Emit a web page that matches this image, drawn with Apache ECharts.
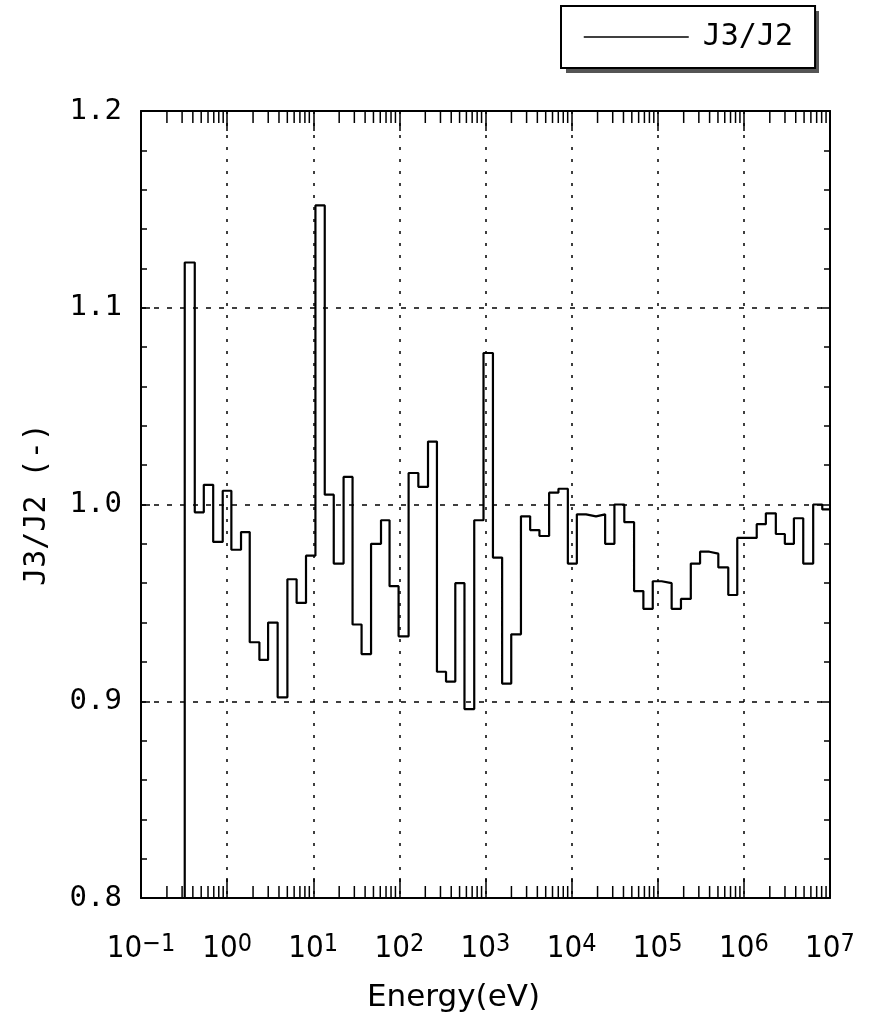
<!DOCTYPE html>
<html><head><meta charset="utf-8">
<script src="https://cdn.jsdelivr.net/npm/echarts@6/dist/echarts.min.js"></script>
<style>html,body{margin:0;padding:0;background:#fff}#c{width:870px;height:1022px}</style>
</head><body><div id="c"></div>
<script>
const SERIES_NAME = 'J3/J2';
const X_NAME = 'Energy(eV)';
const Y_NAME = 'J3/J2 (-)';
// group boundaries (eV)
const BIN_EDGES_EV = [
  0.322, 0.421, 0.536, 0.689, 0.889, 1.12, 1.45, 1.83, 2.37, 2.99,
  3.86, 5.01, 6.41, 8.24, 10.6, 13.6, 17.3, 22.5, 28.6, 36.4,
  46.9, 61.2, 76.9, 97.9, 128, 166, 215, 273, 348, 446,
  570, 740, 948, 1220, 1560, 1990, 2580, 3300, 4230, 5480,
  7030, 9040, 11500, 14700, 19200, 24500, 31400, 40900, 53100, 68100,
  87500, 111000, 145000, 186000, 242000, 310000, 397000, 505000, 659000, 838000,
  1090000, 1410000, 1800000, 2350000, 2990000, 3810000, 4890000, 6380000, 8130000, 10000000
];
// J3/J2 value in each group (one fewer than the boundaries)
const J3_J2 = [
  1.123, 0.996, 1.010, 0.981, 1.007, 0.977, 0.986, 0.930, 0.921, 0.940,
  0.902, 0.962, 0.950, 0.974, 1.152, 1.005, 0.970, 1.014, 0.939, 0.924,
  0.980, 0.992, 0.9585, 0.933, 1.016, 1.009, 1.032, 0.915, 0.910, 0.960,
  0.896, 0.992, 1.077, 0.973, 0.909, 0.934, 0.994, 0.987, 0.984, 1.006,
  1.008, 0.970, 0.995, 0.994, 0.995, 0.980, 1.000, 0.991, 0.956, 0.947,
  0.961, 0.960, 0.947, 0.952, 0.970, 0.976, 0.975, 0.968, 0.954, 0.983,
  0.983, 0.990, 0.9955, 0.985, 0.980, 0.993, 0.970, 1.000, 0.9975
];
const X_TICK_EXPONENTS = [-1, 0, 1, 2, 3, 4, 5, 6, 7];
const X_MINOR_MULTIPLES = [2, 3, 4, 5, 6, 7, 8, 9];
const Y_TICKS = [0.8, 0.9, 1.0, 1.1, 1.2];

const X_MIN = Math.pow(10, X_TICK_EXPONENTS[0]);
const X_MAX = Math.pow(10, X_TICK_EXPONENTS[X_TICK_EXPONENTS.length - 1]);
const Y_MIN = Y_TICKS[0], Y_MAX = Y_TICKS[Y_TICKS.length - 1];

// step line data
const lineData = [[BIN_EDGES_EV[0], Y_MIN]];
for (let i = 0; i < J3_J2.length; i++) lineData.push([BIN_EDGES_EV[i], J3_J2[i]]);
lineData.push([BIN_EDGES_EV[BIN_EDGES_EV.length - 1], J3_J2[J3_J2.length - 1]]);

// minor tick positions on the log axis
const minorTicks = [];
for (let k = 0; k < X_TICK_EXPONENTS.length - 1; k++) {
  for (const m of X_MINOR_MULTIPLES) minorTicks.push([m * Math.pow(10, X_TICK_EXPONENTS[k]), Y_MIN]);
}

const MONO = "'DejaVu Sans Mono', 'Liberation Mono', monospace";
const NARROW = "'DejaVu Sans Condensed', 'Liberation Sans Narrow', 'Liberation Sans', sans-serif";
const BLACK = '#000';

const LEG = { left: 561, top: 6, padT: 16, padR: 22, padB: 16, padL: 22, iconW: 105, itemH: 30, textGap: 9 };

const chart = echarts.init(document.getElementById('c'), null, { renderer: 'canvas' });
const gridDash = { color: BLACK, width: 1.5, type: [5, 8] };
chart.setOption({
  animation: false,
  backgroundColor: '#fff',
  grid: { left: 141, right: 40, top: 111, bottom: 124, containLabel: false, outerBoundsMode: 'none' },
  graphic: [{
    type: 'rect', z: 1, silent: true,
    shape: { x: LEG.left + 5, y: LEG.top + 5, width: 253, height: 62 },
    style: { fill: '#555' }
  }],
  legend: {
    data: [SERIES_NAME],
    left: LEG.left, top: LEG.top, z: 10,
    padding: [LEG.padT, LEG.padR, LEG.padB, LEG.padL],
    itemWidth: LEG.iconW, itemHeight: LEG.itemH,
    backgroundColor: '#fff',
    borderColor: BLACK, borderWidth: 2, borderRadius: 0,
    textStyle: { fontFamily: MONO, fontSize: 30, color: BLACK, padding: [0, 0, 0, LEG.textGap], lineHeight: 30 },
    itemStyle: { opacity: 0 },
    lineStyle: { color: BLACK, width: 1.5 }
  },
  xAxis: [{
    type: 'log', logBase: 10, min: X_MIN, max: X_MAX, splitNumber: X_TICK_EXPONENTS.length - 1,
    position: 'bottom',
    name: X_NAME, nameLocation: 'middle', nameGap: 84,
    nameTextStyle: { fontFamily: "'DejaVu Sans', sans-serif", fontSize: 31, color: BLACK, padding: [0, 64, 0, 0] },
    axisLine: { show: true, lineStyle: { color: BLACK, width: 2 } },
    axisTick: { show: true, inside: true, length: 20, lineStyle: { color: BLACK, width: 1.5 } },
    splitLine: { show: true, lineStyle: { color: BLACK, width: 1.5, type: [3, 9] } },
    axisLabel: {
      margin: 34, showMinLabel: true, showMaxLabel: true, color: BLACK,
      formatter: function (v) {
        const e = Math.round(Math.log10(v));
        return '{b|10}{s|' + (e < 0 ? '\u2212' + (-e) : e) + '}';
      },
      rich: {
        b: { fontFamily: NARROW, fontSize: 31, lineHeight: 34, color: BLACK },
        s: { fontFamily: NARROW, fontSize: 25, lineHeight: 20, verticalAlign: 'top', color: BLACK }
      }
    }
  }, {
    type: 'log', logBase: 10, min: X_MIN, max: X_MAX, splitNumber: X_TICK_EXPONENTS.length - 1,
    position: 'top',
    axisLine: { show: true, lineStyle: { color: BLACK, width: 2 } },
    axisTick: { show: true, inside: true, length: 20, lineStyle: { color: BLACK, width: 1.5 } },
    splitLine: { show: false },
    axisLabel: { show: false }
  }],
  yAxis: [{
    type: 'value', min: Y_MIN, max: Y_MAX, interval: 0.1, position: 'left',
    name: Y_NAME, nameLocation: 'middle', nameGap: 89, nameRotate: 90,
    nameTextStyle: { fontFamily: MONO, fontSize: 30, color: BLACK },
    axisLine: { show: true, lineStyle: { color: BLACK, width: 2 } },
    axisTick: { show: true, inside: true, length: 9, lineStyle: { color: BLACK, width: 1.5 } },
    minorTick: { show: true, splitNumber: 5, length: 6, lineStyle: { color: BLACK, width: 1.5 } },
    splitLine: { show: true, lineStyle: gridDash },
    axisLabel: { margin: 19, fontFamily: MONO, fontSize: 29, color: BLACK, padding: [10, 0, 0, 0], formatter: v => v.toFixed(1) }
  }, {
    type: 'value', min: Y_MIN, max: Y_MAX, interval: 0.1, position: 'right',
    axisLine: { show: true, lineStyle: { color: BLACK, width: 2 } },
    axisTick: { show: true, inside: true, length: 9, lineStyle: { color: BLACK, width: 1.5 } },
    minorTick: { show: true, splitNumber: 5, length: 6, lineStyle: { color: BLACK, width: 1.5 } },
    splitLine: { show: false },
    axisLabel: { show: false }
  }],
  series: [{
    name: SERIES_NAME, type: 'line', step: 'end', data: lineData,
    xAxisIndex: 0, yAxisIndex: 0,
    symbol: 'none', showSymbol: false,
    lineStyle: { color: BLACK, width: 2.2 }, itemStyle: { color: BLACK },
    clip: true, z: 5
  }, {
    name: 'minorTicks', type: 'custom', xAxisIndex: 0, yAxisIndex: 0, silent: true, z: 6,
    data: minorTicks,
    renderItem: function (params, api) {
      const v = api.value(0);
      const pb = api.coord([v, Y_MIN]);
      const pt = api.coord([v, Y_MAX]);
      const st = { stroke: BLACK, lineWidth: 1.5 };
      return { type: 'group', children: [
        { type: 'line', shape: { x1: pb[0], y1: pb[1], x2: pb[0], y2: pb[1] - 12 }, style: st },
        { type: 'line', shape: { x1: pt[0], y1: pt[1], x2: pt[0], y2: pt[1] + 12 }, style: st }
      ]};
    }
  }]
});
</script></body></html>
